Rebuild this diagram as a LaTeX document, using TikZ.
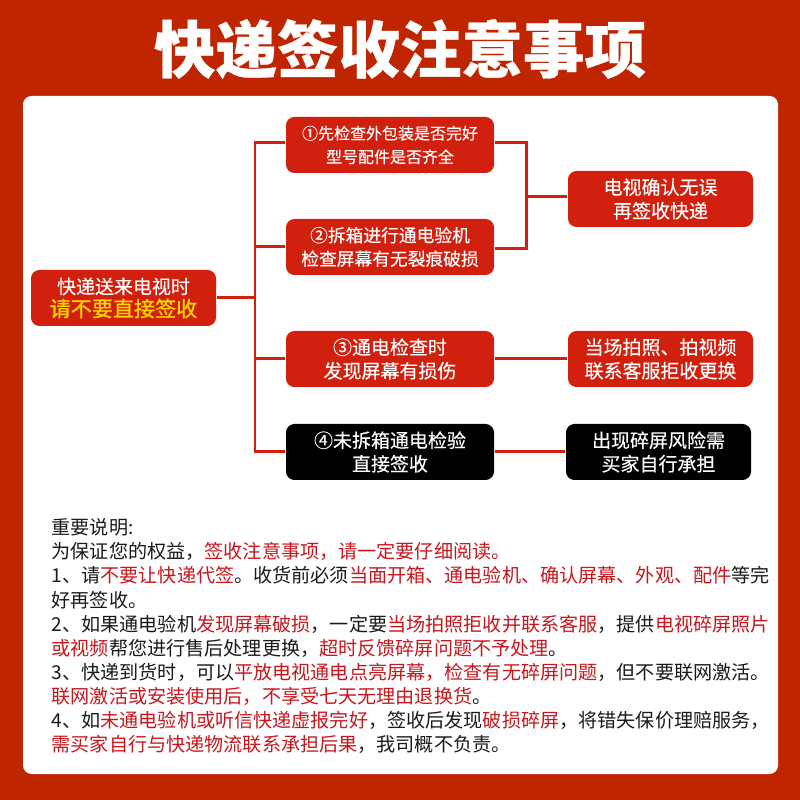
\documentclass[tikz,border=0pt]{standalone}
\usepackage{fontspec}
\setmainfont{Noto Sans CJK SC}
\newfontfamily\boxfont[FakeBold=0.25]{Noto Sans CJK SC}
\newfontfamily\warnfont[FakeBold=0.7]{Noto Sans CJK SC}
\newfontfamily\titlefont[BoldFeatures={FakeBold=0.5}]{Noto Sans CJK SC}
\definecolor{bgred}{HTML}{BE2500}
\definecolor{boxred}{HTML}{D2200F}
\definecolor{notered}{HTML}{C8161D}
\definecolor{noteblack}{HTML}{1A1A1A}
\definecolor{warnyellow}{HTML}{FFD800}
\newcommand{\hl}[1]{\textcolor{notered}{#1}}
\tikzset{
	redbox/.style={fill=boxred,text=white,rounded corners=2.4pt,minimum width=#1,minimum height=0.56cm,inner sep=0pt,align=center,font=\boxfont\fontsize{5.4}{6.7}\selectfont},
	redbox/.default=2.08cm,
	blackbox/.style={redbox=#1,fill=black},
	blackbox/.default=2.08cm,
	link/.style={draw=boxred,line width=0.85pt}
}
\begin{document}
\begin{tikzpicture}
	\useasboundingbox (0,0) rectangle (8,8);
	\fill[bgred] (0,0) rectangle (8,8);
	\fill[white,rounded corners=2.4pt] (0.23,0.26) rectangle (7.78,7.04);
	\node (title) at (4,7.51) [text=white,font=\titlefont\fontsize{17.5}{20}\bfseries\selectfont] {快递签收注意事项};
	% left column
	\node[redbox=1.85cm] (root) at (1.235,5.02) {快递送来电视时\\[-0.2pt]{\color{warnyellow}\warnfont\fontsize{6}{7}\selectfont 请不要直接签收}};
	\node[redbox] (check) at (3.9,6.55) {\fontsize{4.55}{6.8}\selectfont ①先检查外包装是否完好\\\fontsize{4.55}{6.8}\selectfont 型号配件是否齐全};
	\node[redbox] (open) at (3.9,5.53) {\fontsize{5.05}{7}\selectfont ②拆箱进行通电验机\\\fontsize{5.05}{7}\selectfont 检查屏幕有无裂痕破损};
	\node[redbox] (power) at (3.9,4.41) {③通电检查时\\发现屏幕有损伤};
	\node[blackbox] (unopened) at (3.9,3.48) {④未拆箱通电检验\\直接签收};
	% right column
	\node[redbox=1.85cm] (confirm) at (6.605,6.01) {电视确认无误\\再签收快递};
	\node[redbox=1.85cm] (photo) at (6.605,4.41) {当场拍照、拍视频\\联系客服拒收更换};
	\node[blackbox=1.85cm] (risk) at (6.585,3.48) {出现碎屏风险需\\买家自行承担};
	% connectors
	\coordinate (busL) at (2.55,5);
	\coordinate (busR) at (5.26,6);
	\coordinate (checkW) at ([yshift=0.02cm]check.west);
	\coordinate (checkE) at ([yshift=0.02cm]check.east);
	\coordinate (openE) at ([yshift=-0.02cm]open.east);
	\coordinate (confirmW) at ([yshift=0.02cm]confirm.west);
	\draw[link] (checkW) -- (busL |- checkW) -- (busL |- unopened.west) -- (unopened.west);
	\draw[link] (open.west) -- (busL |- open.west);
	\draw[link] (power.west) -- (busL |- power.west);
	\draw[link] (root.east) -- (busL |- root.east);
	\draw[link] (checkE) -- (busR |- checkE) -- (busR |- openE) -- (openE);
	\draw[link] (confirmW) -- (busR |- confirmW);
	\draw[link] (power.east) -- (photo.west);
	\draw[link] (unopened.east) -- (risk.west);
	% notes
	\node[anchor=north west,inner sep=0pt,align=left,text=noteblack,font=\fontsize{5.44}{6.86}\selectfont] (notes) at (0.51,2.82) {重要说明:\\
	为保证您的权益，\hl{签收注意事项，请一定要仔细阅读。}\\
	1、请\hl{不要让快递代签}。收货前必须\hl{当面开箱、通电验机、确认屏幕、外观、配件}等完\\
	好再签收。\\
	2、如果通电验机\hl{发现屏幕破损}，一定要\hl{当场拍照拒收并联系客服}，提供\hl{电视碎屏照片}\\
	\hl{或视频}帮您进行售后处理更换，\hl{超时反馈碎屏问题不予处理}。\\
	3、快递到货时，可以\hl{平放电视通电点亮屏幕，检查有无碎屏问题}，但不要联网激活。\\
	\hl{联网激活或安装使用后，不享受七天无理由退换货}。\\
	4、如\hl{未通电验机或听信快递虚报完好}，签收后发现\hl{破损碎屏}，将错失保价理赔服务，\\
	\hl{需买家自行与快递物流联系承担后果}，我司概不负责。};
\end{tikzpicture}
\end{document}
